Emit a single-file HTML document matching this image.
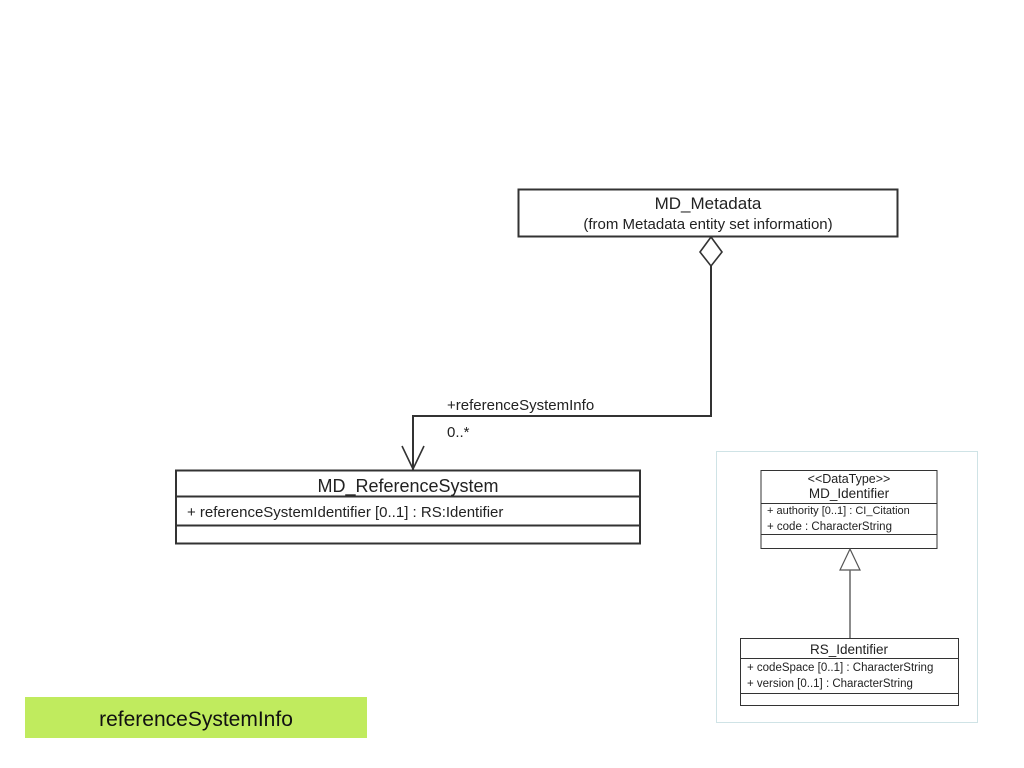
<!DOCTYPE html>
<html><head><meta charset="utf-8"><style>
html,body{margin:0;padding:0;background:#fff;}
svg{display:block;}
text{font-family:"Liberation Sans",sans-serif;fill:#222;}
</style></head><body>
<svg width="1024" height="768" viewBox="0 0 1024 768" xmlns="http://www.w3.org/2000/svg">
<rect width="1024" height="768" fill="#fff"/>
<!-- MD_Metadata -->
<rect x="518.5" y="189.5" width="379" height="47" fill="#fff" stroke="#333" stroke-width="2"/>
<text x="708" y="209" font-size="17" text-anchor="middle">MD_Metadata</text>
<text x="708" y="229" font-size="15" text-anchor="middle">(from Metadata entity set information)</text>
<polygon points="711,237 722,252 711,266 700,252" fill="#fff" stroke="#333" stroke-width="1.6"/>
<polyline points="711,266 711,416 413,416 413,470" fill="none" stroke="#333" stroke-width="2"/>
<polyline points="402,446 413,469 424,446" fill="none" stroke="#333" stroke-width="1.6"/>
<text x="447" y="410" font-size="15">+referenceSystemInfo</text>
<text x="447" y="437" font-size="15">0..*</text>
<!-- MD_ReferenceSystem -->
<rect x="176" y="470.5" width="464" height="73" fill="#fff" stroke="#333" stroke-width="2"/>
<line x1="176" y1="496.5" x2="640" y2="496.5" stroke="#333" stroke-width="2"/>
<line x1="176" y1="525.5" x2="640" y2="525.5" stroke="#333" stroke-width="2"/>
<text x="408" y="492" font-size="18" text-anchor="middle">MD_ReferenceSystem</text>
<text x="187" y="517" font-size="15">+ referenceSystemIdentifier [0..1] : RS:Identifier</text>
<!-- right panel -->
<rect x="716.5" y="451.5" width="261" height="271" fill="#fff" stroke="#cfe3e6" stroke-width="1"/>
<rect x="761" y="470.5" width="176" height="78" fill="#fff" stroke="#333" stroke-width="1"/>
<line x1="761" y1="503.5" x2="937" y2="503.5" stroke="#333"/>
<line x1="761" y1="534.5" x2="937" y2="534.5" stroke="#333"/>
<text x="849" y="483" font-size="12.5" text-anchor="middle">&lt;&lt;DataType&gt;&gt;</text>
<text x="849" y="498" font-size="13.5" text-anchor="middle">MD_Identifier</text>
<text x="767" y="514" font-size="11">+ authority [0..1] : CI_Citation</text>
<text x="767" y="530" font-size="11.5">+ code : CharacterString</text>
<polygon points="850,549 860,570 840,570" fill="#fff" stroke="#555" stroke-width="1.2"/>
<line x1="850" y1="570" x2="850" y2="638" stroke="#666" stroke-width="1.5"/>
<rect x="740.5" y="638.5" width="218" height="67" fill="#fff" stroke="#333" stroke-width="1"/>
<line x1="740" y1="658.5" x2="958" y2="658.5" stroke="#333"/>
<line x1="740" y1="693.5" x2="958" y2="693.5" stroke="#333"/>
<text x="849" y="654" font-size="13.5" text-anchor="middle">RS_Identifier</text>
<text x="747" y="671" font-size="11.5">+ codeSpace [0..1] : CharacterString</text>
<text x="747" y="687" font-size="11.5">+ version [0..1] : CharacterString</text>
<!-- green label -->
<rect x="25" y="697" width="342" height="41" fill="#c0eb5e"/>
<text x="196" y="726" font-size="21" text-anchor="middle" style="fill:#111">referenceSystemInfo</text>
</svg>
</body></html>
